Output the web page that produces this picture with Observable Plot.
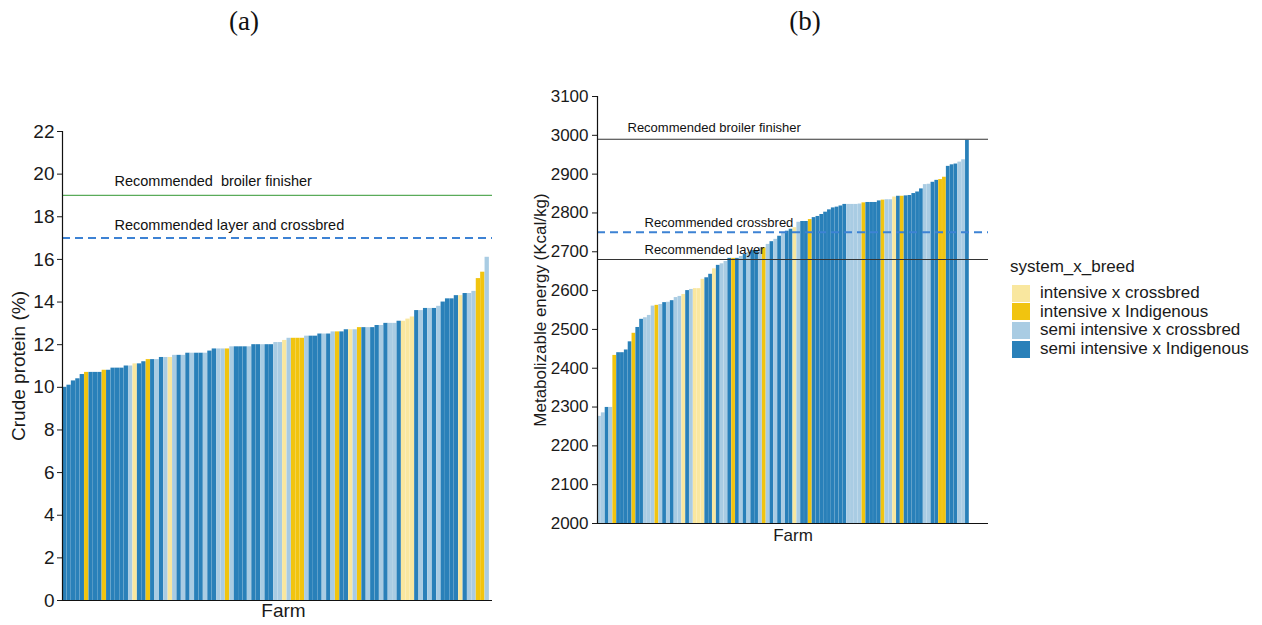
<!DOCTYPE html>
<html>
<head>
<meta charset="utf-8">
<script src="https://cdn.jsdelivr.net/npm/d3@7"></script>
<script src="https://cdn.jsdelivr.net/npm/@observablehq/plot@0.6"></script>
<style>
  html, body { margin: 0; padding: 0; background: #fff; }
  #root { position: relative; width: 1262px; height: 625px; overflow: hidden; background: #fff; font-family: "Liberation Sans", Arial, sans-serif; }
  .panel { position: absolute; top: 0; }
  .panel svg text { white-space: pre; }
  .title { position: absolute; top: 6px; font-family: "Liberation Serif", "Times New Roman", serif; font-size: 27px; color: #111; transform: translateX(-50%); }
  #legend { position: absolute; left: 1010px; top: 257px; color: #1a1a1a; }
  #legend .lt { font-size: 17px; margin-bottom: 7px; }
  #legend .row { display: flex; align-items: center; height: 18.6px; }
  #legend .sw { width: 18px; height: 17px; margin-left: 2px; margin-right: 10px; }
  #legend .lb { font-size: 17px; }
</style>
</head>
<body>
<div id="root">
  <div class="title" style="left:244px">(a)</div>
  <div class="title" style="left:805px">(b)</div>
  <div id="panelA" class="panel" style="left:0px"></div>
  <div id="panelB" class="panel" style="left:500px"></div>
  <div id="legend"></div>
</div>
<script>
// ---------- categories ----------
const groupNames = ["intensive x crossbred", "intensive x Indigenous", "semi intensive x crossbred", "semi intensive x Indigenous"];
const groupCodes = ["P", "Y", "L", "D"];
const groupColors = ["#F9E79F", "#F1C40F", "#A9CCE3", "#2980B9"];

// ---------- panel (a): crude protein (%) per farm, sorted ----------
const cpValues = [
  10.0, 10.1, 10.3, 10.4, 10.6, 10.7, 10.7, 10.7, 10.7, 10.8,
  10.8, 10.9, 10.9, 10.9, 11.0, 11.0, 11.1, 11.1, 11.2, 11.3,
  11.3, 11.3, 11.4, 11.4, 11.4, 11.5, 11.5, 11.5, 11.6, 11.6,
  11.6, 11.6, 11.6, 11.7, 11.8, 11.8, 11.8, 11.8, 11.9, 11.9,
  11.9, 11.9, 11.9, 12.0, 12.0, 12.0, 12.0, 12.0, 12.1, 12.1,
  12.2, 12.3, 12.3, 12.3, 12.3, 12.4, 12.4, 12.4, 12.5, 12.5,
  12.5, 12.6, 12.6, 12.6, 12.7, 12.7, 12.7, 12.8, 12.8, 12.8,
  12.8, 12.9, 12.9, 13.0, 13.0, 13.0, 13.1, 13.1, 13.2, 13.3,
  13.6, 13.6, 13.7, 13.7, 13.7, 13.8, 14.0, 14.15, 14.15, 14.3,
  14.3, 14.4, 14.4, 14.5, 15.1, 15.4, 16.1
];
const cpGroups = [
  "D","D","D","D","D","Y","D","D","D","Y",
  "D","D","D","D","D","L","P","D","D","Y",
  "D","L","D","L","P","L","D","L","D","L",
  "D","D","L","D","D","L","L","Y","L","D",
  "D","D","L","D","D","L","D","D","L","L",
  "P","L","Y","Y","Y","L","D","D","D","L",
  "D","L","Y","D","D","P","L","Y","D","L",
  "D","D","L","D","L","L","D","P","P","P",
  "D","L","D","L","D","L","D","D","D","D",
  "P","D","L","L","Y","Y","L"
];
const cpTicks = [0, 2, 4, 6, 8, 10, 12, 14, 16, 18, 20, 22];
const cpRefLabels = ["Recommended  broiler finisher", "Recommended layer and crossbred"];
const cpRefValues = [19, 17];

// ---------- panel (b): metabolizable energy (Kcal/kg) per farm, sorted ----------
const meValues = [
  2276, 2285, 2299, 2299, 2433, 2440, 2440, 2447, 2468, 2490,
  2505, 2526, 2530, 2536, 2560, 2562, 2564, 2569, 2570, 2574,
  2582, 2585, 2590, 2600, 2603, 2605, 2605, 2629, 2633, 2642,
  2656, 2665, 2669, 2675, 2683, 2683, 2683, 2688, 2693, 2698,
  2703, 2703, 2710, 2710, 2719, 2726, 2732, 2740, 2747, 2753,
  2758, 2762, 2776, 2778, 2778, 2783, 2788, 2791, 2796, 2802,
  2808, 2813, 2815, 2818, 2822, 2822, 2822, 2822, 2823, 2826,
  2827, 2827, 2827, 2831, 2833, 2834, 2834, 2841, 2843, 2843,
  2844, 2845, 2850, 2854, 2862, 2873, 2874, 2879, 2884, 2886,
  2892, 2920, 2924, 2926, 2931, 2937, 2987
];
const meGroups = [
  "L","L","D","L","Y","D","D","D","D","Y",
  "D","D","L","L","L","Y","L","D","L","D",
  "L","L","P","D","L","P","P","P","D","D",
  "P","D","L","L","D","Y","D","L","D","L",
  "D","D","L","Y","L","D","L","D","L","D",
  "D","P","L","D","D","Y","D","D","D","D",
  "D","D","D","D","D","L","L","L","L","Y",
  "D","D","D","D","Y","L","L","P","D","Y",
  "D","D","D","D","D","L","L","D","D","Y",
  "Y","D","D","D","L","L","D"
];
const meTicks = [2000, 2100, 2200, 2300, 2400, 2500, 2600, 2700, 2800, 2900, 3000, 3100];
const meRefLabels = ["Recommended broiler finisher", "Recommended crossbred", "Recommended layer"];
const meRefValues = [2990, 2750, 2680];

// ---------- build tables ----------
const nameOf = Object.fromEntries(groupCodes.map((c, k) => [c, groupNames[k]]));
const rows = (vals, grps) => vals.map((v, i) => ({farm: i, next: i + 1, value: v, group: nameOf[grps[i]]}));
const cpRows = rows(cpValues, cpGroups);
const meRows = rows(meValues, meGroups);

const font = "'Liberation Sans', Arial, sans-serif";

// ---------- panel (a) ----------
const plotA = Plot.plot({
  width: 500, height: 625,
  marginLeft: 62, marginRight: 8, marginTop: 131, marginBottom: 25,
  x: {domain: [0, cpValues.length + 0.7], axis: null},
  y: {domain: [cpTicks[0], cpTicks[cpTicks.length - 1]], ticks: cpTicks, tickSize: 5, tickPadding: 3, label: null},
  color: {domain: groupNames, range: groupColors},
  style: {fontFamily: font, fontSize: "19px", color: "#1a1a1a", background: "transparent", overflow: "visible"},
  marks: [
    Plot.rectY(cpRows, {x1: "farm", x2: "next", y1: cpTicks[0], y2: "value", fill: "group", insetLeft: 0.05, insetRight: 0.05}),
    Plot.ruleY([cpRefValues[0]], {stroke: "#5aab5a", strokeWidth: 1.3}),
    Plot.ruleY([cpRefValues[1]], {stroke: "#3d82d4", strokeWidth: 2, strokeDasharray: "8,5"}),
    Plot.text([0], {y: () => cpRefValues[0], text: () => cpRefLabels[0], frameAnchor: "left", textAnchor: "start", dx: 52, dy: -14, fontSize: 14.5, fill: "#111"}),
    Plot.text([0], {y: () => cpRefValues[1], text: () => cpRefLabels[1], frameAnchor: "left", textAnchor: "start", dx: 52, dy: -13, fontSize: 14.5, fill: "#111"}),
    Plot.ruleX([0], {stroke: "#111", strokeWidth: 1.2}),
    Plot.ruleY([cpTicks[0]], {stroke: "#111", strokeWidth: 1.2}),
    Plot.text(["Crude protein (%)"], {text: d => d, frameAnchor: "left", textAnchor: "middle", rotate: -90, dx: -44, fontSize: 19, fill: "#1a1a1a"}),
    Plot.text(["Farm"], {text: d => d, frameAnchor: "bottom", dx: 6, dy: 16, fontSize: 19, fill: "#1a1a1a"})
  ]
});
document.getElementById("panelA").appendChild(plotA);

// ---------- panel (b) ----------
const plotB = Plot.plot({
  width: 500, height: 625,
  marginLeft: 97, marginRight: 12, marginTop: 96, marginBottom: 102,
  x: {domain: [0, meValues.length + 5], axis: null},
  y: {domain: [meTicks[0], meTicks[meTicks.length - 1]], ticks: meTicks, tickFormat: d3.format("d"), tickSize: 5, tickPadding: 4, label: null},
  color: {domain: groupNames, range: groupColors},
  style: {fontFamily: font, fontSize: "17px", color: "#1a1a1a", background: "transparent", overflow: "visible"},
  marks: [
    Plot.rectY(meRows, {x1: "farm", x2: "next", y1: meTicks[0], y2: "value", fill: "group", insetLeft: 0.05, insetRight: 0.05}),
    Plot.ruleY([meRefValues[0]], {stroke: "#333", strokeWidth: 1.1}),
    Plot.ruleY([meRefValues[1]], {stroke: "#3d82d4", strokeWidth: 2, strokeDasharray: "8,5"}),
    Plot.ruleY([meRefValues[2]], {stroke: "#333", strokeWidth: 1.1}),
    Plot.text([0], {y: () => meRefValues[0], text: () => meRefLabels[0], frameAnchor: "left", textAnchor: "start", dx: 30, dy: -11, fontSize: 13, fill: "#111"}),
    Plot.text([0], {y: () => meRefValues[1], text: () => meRefLabels[1], frameAnchor: "left", textAnchor: "start", dx: 47, dy: -10, fontSize: 13, fill: "#111"}),
    Plot.text([0], {y: () => meRefValues[2], text: () => meRefLabels[2], frameAnchor: "left", textAnchor: "start", dx: 47, dy: -10, fontSize: 13, fill: "#111"}),
    Plot.ruleX([0], {stroke: "#111", strokeWidth: 1.2}),
    Plot.ruleY([meTicks[0]], {stroke: "#111", strokeWidth: 1.2}),
    Plot.text(["Metabolizable energy (Kcal/kg)"], {text: d => d, frameAnchor: "left", textAnchor: "middle", rotate: -90, dx: -57, fontSize: 17, fill: "#1a1a1a"}),
    Plot.text(["Farm"], {text: d => d, frameAnchor: "bottom", dy: 17, fontSize: 17, fill: "#1a1a1a"})
  ]
});
document.getElementById("panelB").appendChild(plotB);

// ---------- legend ----------
const legend = document.getElementById("legend");
const lt = document.createElement("div");
lt.className = "lt";
lt.textContent = "system_x_breed";
legend.appendChild(lt);
groupNames.forEach((name, k) => {
  const row = document.createElement("div");
  row.className = "row";
  const sw = document.createElement("div");
  sw.className = "sw";
  sw.style.background = groupColors[k];
  const lb = document.createElement("div");
  lb.className = "lb";
  lb.textContent = name;
  row.appendChild(sw);
  row.appendChild(lb);
  legend.appendChild(row);
});
</script>
</body>
</html>
